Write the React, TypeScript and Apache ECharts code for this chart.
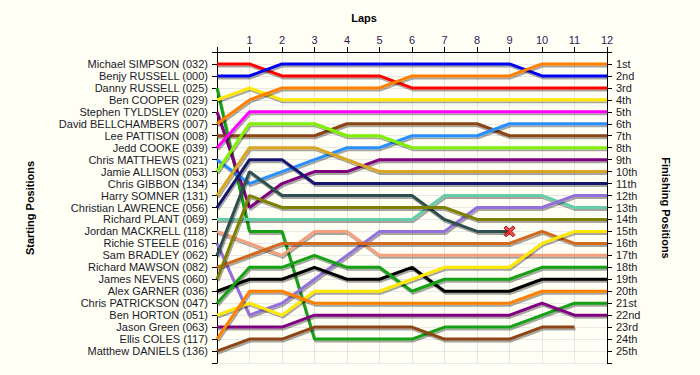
import React, { useEffect, useRef } from "react";
import * as echarts from "echarts";

const laps = [0, 1, 2, 3, 4, 5, 6, 7, 8, 9, 10, 11, 12];

const startNames = [
  "Michael SIMPSON (032)",
  "Benjy RUSSELL (000)",
  "Danny RUSSELL (025)",
  "Ben COOPER (029)",
  "Stephen TYLDSLEY (020)",
  "David BELLCHAMBERS (007)",
  "Lee PATTISON (008)",
  "Jedd COOKE (039)",
  "Chris MATTHEWS (021)",
  "Jamie ALLISON (053)",
  "Chris GIBBON (134)",
  "Harry SOMNER (131)",
  "Christian LAWRENCE (056)",
  "Richard PLANT (069)",
  "Jordan MACKRELL (118)",
  "Richie STEELE (016)",
  "Sam BRADLEY (062)",
  "Richard MAWSON (082)",
  "James NEVENS (060)",
  "Alex GARNER (036)",
  "Chris PATRICKSON (047)",
  "Ben HORTON (051)",
  "Jason Green (063)",
  "Ellis COLES (117)",
  "Matthew DANIELS (136)",
];

const finishLabels = [
  "1st", "2nd", "3rd", "4th", "5th", "6th", "7th", "8th", "9th", "10th",
  "11th", "12th", "13th", "14th", "15th", "16th", "17th", "18th", "19th", "20th",
  "21st", "22nd", "23rd", "24th", "25th",
];

// positions per lap (lap 0 = start)
const simpson = [1, 1, 2, 2, 2, 2, 3, 3, 3, 3, 3, 3, 3];
const benjy = [2, 2, 1, 1, 1, 1, 1, 1, 1, 1, 2, 2, 2];
const danny = [3, 15, 15, 24, 24, 24, 24, 23, 23, 23, 22, 21, 21];
const cooper = [4, 3, 4, 4, 4, 4, 4, 4, 4, 4, 4, 4, 4];
const tyldsley = [5, 13, 11, 10, 10, 9, 9, 9, 9, 9, 9, 9, 9];
const bellchambers = [6, 4, 3, 3, 3, 3, 2, 2, 2, 2, 1, 1, 1];
const pattison = [7, 7, 7, 7, 6, 6, 6, 6, 6, 7, 7, 7, 7];
const cooke = [8, 5, 5, 5, 5, 5, 5, 5, 5, 5, 5, 5, 5];
const matthews = [9, 11, 10, 9, 8, 8, 7, 7, 7, 6, 6, 6, 6];
const allison = [10, 6, 6, 6, 7, 7, 8, 8, 8, 8, 8, 8, 8];
const somner = [12, 8, 8, 8, 9, 10, 10, 10, 10, 10, 10, 10, 10];
const lawrence = [13, 9, 9, 11, 11, 11, 11, 11, 11, 11, 11, 11, 11];
const plant = [14, 14, 14, 14, 14, 14, 14, 12, 12, 12, 12, 13, 13];
const mackrell = [15, 16, 17, 15, 15, 17, 17, 17, 17, 17, 17, 17, 17];
const steele = [16, 22, 21, 19, 17, 15, 15, 15, 13, 13, 13, 12, 12];
const bradley = [17, 10, 12, 12, 12, 12, 12, 14, 15, 15];
const mawson = [18, 17, 16, 16, 16, 16, 16, 16, 16, 16, 15, 16, 16];
const nevens = [19, 12, 13, 13, 13, 13, 13, 13, 14, 14, 14, 14, 14];
const garner = [20, 19, 19, 18, 19, 19, 18, 20, 20, 20, 19, 19, 19];
const patrickson = [21, 18, 18, 17, 18, 18, 20, 19, 19, 19, 18, 18, 18];
const horton = [22, 21, 22, 20, 20, 20, 19, 18, 18, 18, 16, 15, 15];
const green = [23, 23, 23, 22, 22, 22, 22, 22, 22, 22, 21, 22, 22];
const coles = [24, 20, 20, 21, 21, 21, 21, 21, 21, 21, 20, 20, 20];
const daniels = [25, 24, 24, 23, 23, 23, 23, 24, 24, 24, 23, 23];

const drivers = [
  { name: "Michael SIMPSON (032)", pos: simpson, color: "#ff0000" },
  { name: "Benjy RUSSELL (000)", pos: benjy, color: "#0000ee" },
  { name: "Danny RUSSELL (025)", pos: danny, color: "#14a014" },
  { name: "Ben COOPER (029)", pos: cooper, color: "#ffe800" },
  { name: "Stephen TYLDSLEY (020)", pos: tyldsley, color: "#800080" },
  { name: "David BELLCHAMBERS (007)", pos: bellchambers, color: "#ff8000" },
  { name: "Lee PATTISON (008)", pos: pattison, color: "#8b4513" },
  { name: "Jedd COOKE (039)", pos: cooke, color: "#ff00ff" },
  { name: "Chris MATTHEWS (021)", pos: matthews, color: "#2a90ff" },
  { name: "Jamie ALLISON (053)", pos: allison, color: "#80f000" },
  { name: "Harry SOMNER (131)", pos: somner, color: "#daa520" },
  { name: "Christian LAWRENCE (056)", pos: lawrence, color: "#191970" },
  { name: "Richard PLANT (069)", pos: plant, color: "#66cdaa" },
  { name: "Jordan MACKRELL (118)", pos: mackrell, color: "#f4a07e" },
  { name: "Richie STEELE (016)", pos: steele, color: "#9370db" },
  { name: "Sam BRADLEY (062)", pos: bradley, color: "#2f4f4f" },
  { name: "Richard MAWSON (082)", pos: mawson, color: "#d2691e" },
  { name: "James NEVENS (060)", pos: nevens, color: "#808000" },
  { name: "Alex GARNER (036)", pos: garner, color: "#000000" },
  { name: "Chris PATRICKSON (047)", pos: patrickson, color: "#14a014" },
  { name: "Ben HORTON (051)", pos: horton, color: "#ffe800" },
  { name: "Jason Green (063)", pos: green, color: "#800080" },
  { name: "Ellis COLES (117)", pos: coles, color: "#ff8000" },
  { name: "Matthew DANIELS (136)", pos: daniels, color: "#8b4513" },
];

const retired = [{ driver: "Sam BRADLEY (062)" }];

const FONT = "Liberation Sans, Arial, sans-serif";

export default function App() {
  const ref = useRef<HTMLDivElement>(null);
  useEffect(() => {
    document.body.style.margin = "0";
    const chart = echarts.init(ref.current!, null, { renderer: "svg" });
    const lineSeries = drivers.map((d) => ({
      type: "line",
      name: d.name,
      xAxisIndex: 0,
      yAxisIndex: 0,
      data: d.pos.map((p, i) => [laps[i], p]),
      symbol: "none",
      silent: true,
      lineStyle: {
        color: d.color,
        width: 3,
        shadowColor: "rgba(0,0,0,0.35)",
        shadowOffsetX: 1,
        shadowOffsetY: 2,
        shadowBlur: 1,
      },
      z: 3,
    }));
    const retiredData = retired.map((r) => {
      const d = drivers.find((x) => x.name === r.driver)!;
      const last = d.pos.length - 1;
      return [laps[last], d.pos[last]];
    });
    chart.setOption({
      animation: false,
      backgroundColor: "#fffff5",
      grid: { left: 217, right: 93, top: 52, bottom: 12 },
      xAxis: {
        type: "value",
        position: "top",
        min: 0,
        max: 12,
        interval: 1,
        axisLine: { show: true, lineStyle: { color: "#000", width: 1 } },
        axisTick: { show: true, length: 5, lineStyle: { color: "#000" } },
        axisLabel: {
          margin: 7,
          fontFamily: FONT,
          fontSize: 11,
          color: "#2a1a55",
          formatter: (v: number) => (v === 0 ? "" : String(v)),
        },
        splitLine: { show: true, lineStyle: { color: "#e4e4e4", width: 1 } },
      },
      yAxis: [
        {
          type: "value",
          position: "left",
          inverse: true,
          min: 0,
          max: 26,
          interval: 1,
          axisLine: { show: true, lineStyle: { color: "#000", width: 1 } },
          axisTick: { show: true, length: 5, lineStyle: { color: "#000" } },
          axisLabel: {
            margin: 9,
            fontFamily: FONT,
            fontSize: 11,
            color: "#1a1a2a",
            formatter: (v: number) => startNames[v - 1] ?? "",
          },
          splitLine: { show: true, lineStyle: { color: "#e8e8e8", width: 1 } },
        },
        {
          type: "value",
          position: "right",
          inverse: true,
          min: 0,
          max: 26,
          interval: 1,
          axisLine: { show: true, lineStyle: { color: "#000", width: 1 } },
          axisTick: { show: true, length: 5, lineStyle: { color: "#000" } },
          axisLabel: {
            margin: 9,
            fontFamily: FONT,
            fontSize: 11,
            color: "#1a1a2a",
            formatter: (v: number) => finishLabels[v - 1] ?? "",
          },
          splitLine: { show: false },
        },
      ],
      graphic: [
        {
          type: "text",
          x: 364,
          y: 18,
          style: {
            text: "Laps",
            font: `bold 11px ${FONT}`,
            fill: "#000",
            align: "center",
            verticalAlign: "middle",
          },
        },
        {
          type: "text",
          x: 30,
          y: 208,
          rotation: Math.PI / 2,
          style: {
            text: "Starting Positions",
            font: `bold 11px ${FONT}`,
            fill: "#000",
            align: "center",
            verticalAlign: "middle",
          },
        },
        {
          type: "text",
          x: 666,
          y: 208,
          rotation: -Math.PI / 2,
          style: {
            text: "Finishing Positions",
            font: `bold 11px ${FONT}`,
            fill: "#000",
            align: "center",
            verticalAlign: "middle",
          },
        },
      ],
      series: [
        ...lineSeries,
        {
          type: "scatter",
          data: retiredData,
          symbol:
            "path://M2,0 L5,3 L8,0 L10,2 L7,5 L10,8 L8,10 L5,7 L2,10 L0,8 L3,5 L0,2 Z",
          symbolSize: 11,
          itemStyle: { color: "#ff1a1a", borderColor: "#700000", borderWidth: 1 },
          silent: true,
          z: 5,
        },
      ],
    });
    return () => chart.dispose();
  }, []);
  return (
    <div
      ref={ref}
      style={{ position: "fixed", left: 0, top: 0, width: 700, height: 375 }}
    />
  );
}
